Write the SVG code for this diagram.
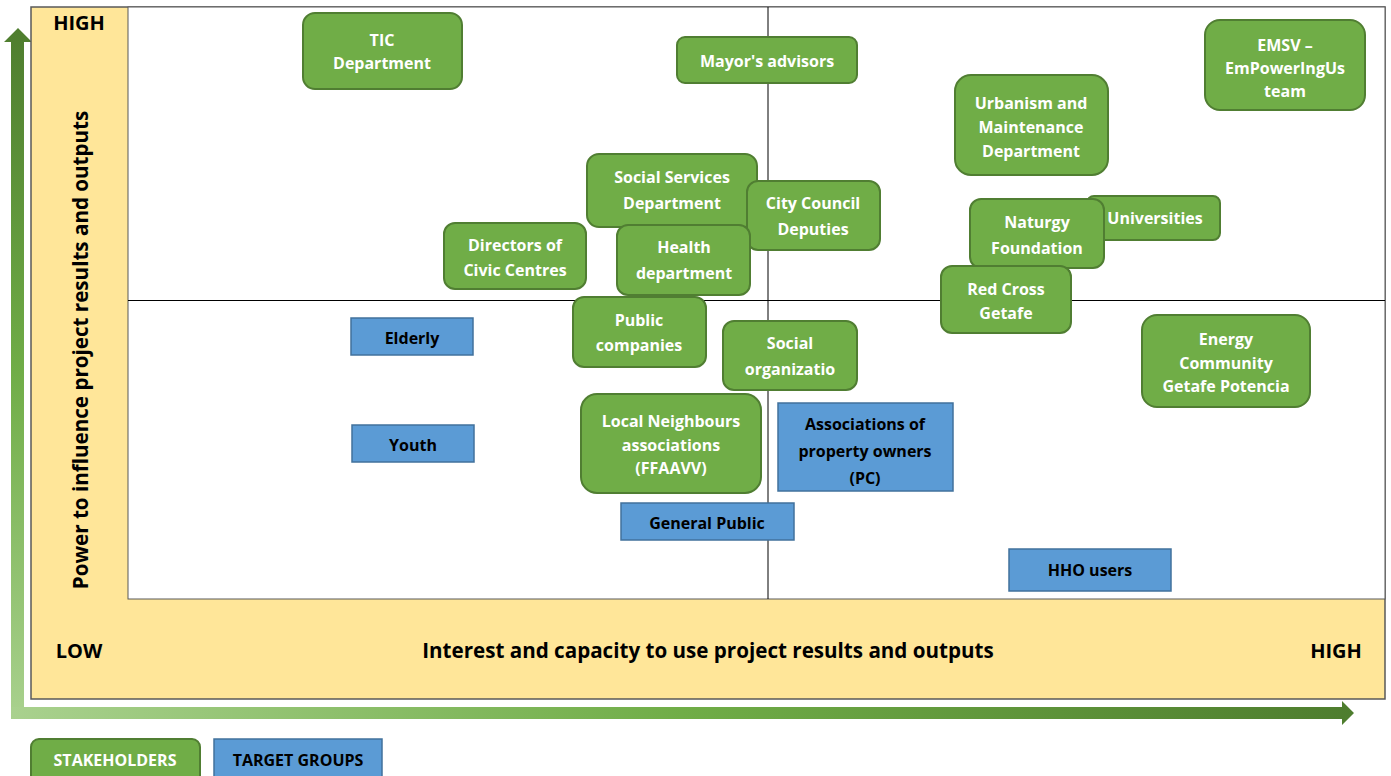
<svg xmlns="http://www.w3.org/2000/svg" width="1391" height="776" viewBox="0 0 1391 776">
<style>
.g rect{fill:#70AD47;stroke:#507E32;stroke-width:2;}
.b rect{fill:#5B9BD5;stroke:#41719C;stroke-width:1.5;}
.g text{fill:#FFFFFF;font-size:16px;text-anchor:middle;font-family:"Open Sans","Liberation Sans",sans-serif;font-weight:bold;}
.b text{fill:#000000;font-size:16px;text-anchor:middle;font-family:"Open Sans","Liberation Sans",sans-serif;font-weight:bold;}
.axis{fill:#000;font-size:20px;font-family:"Open Sans","Liberation Sans",sans-serif;font-weight:bold;}
.axis-long{font-size:20.6px;}
</style>
<defs>
<linearGradient id="gv" x1="0" y1="0" x2="0" y2="1">
<stop offset="0" stop-color="#4E7D2E"/>
<stop offset="0.5" stop-color="#70AD47"/>
<stop offset="1" stop-color="#A9D18E"/>
</linearGradient>
<linearGradient id="gh" x1="0" y1="0" x2="1" y2="0">
<stop offset="0" stop-color="#A9D18E"/>
<stop offset="0.5" stop-color="#70AD47"/>
<stop offset="1" stop-color="#4E7D2E"/>
</linearGradient>
</defs>
<rect x="0" y="0" width="1391" height="776" fill="#FFFFFF"/>
<g id="axis-arrows">
<path d="M11,42 L4,42 L18,28 L32,42 L24,42 L24,719 L11,719 Z" fill="url(#gv)"/>
<path d="M11,707 L1342,707 L1342,701 L1354,713 L1342,725 L1342,719 L11,719 Z" fill="url(#gh)"/>
</g>
<g id="frame">
<rect x="31" y="7" width="1354" height="692" fill="#FFE699" stroke="#595959" stroke-width="1.5"/>
<rect x="128" y="7" width="1257" height="592" fill="#FFFFFF" stroke="#595959" stroke-width="1"/>
<line x1="768" y1="7" x2="768" y2="599" stroke="#000" stroke-width="1"/>
<line x1="128" y1="300.5" x2="1385" y2="300.5" stroke="#000" stroke-width="1"/>
<text class="axis" x="79" y="30" text-anchor="middle">HIGH</text>
<text class="axis" x="79" y="658" text-anchor="middle">LOW</text>
<text class="axis" x="1336" y="658" text-anchor="middle">HIGH</text>
<text class="axis axis-long" x="708" y="658" text-anchor="middle">Interest and capacity to use project results and outputs</text>
<text class="axis axis-long" transform="translate(88,350) rotate(-90)" x="0" y="0" text-anchor="middle">Power to influence project results and outputs</text>
</g>
<g id="n-tic" class="g"><rect x="303" y="13" width="159" height="76" rx="12"/><text x="382" y="46">TIC</text><text x="382" y="69">Department</text></g>
<g id="n-mayor" class="g"><rect x="677" y="37" width="180" height="46" rx="8"/><text x="767" y="67">Mayor's advisors</text></g>
<g id="n-emsv" class="g"><rect x="1205" y="20" width="160" height="90" rx="15"/><text x="1285" y="51">EMSV –</text><text x="1285" y="74">EmPowerIngUs</text><text x="1285" y="97">team</text></g>
<g id="n-urban" class="g"><rect x="955" y="75" width="153" height="100" rx="16"/><text x="1031" y="109">Urbanism and</text><text x="1031" y="133">Maintenance</text><text x="1031" y="157">Department</text></g>
<g id="n-social-services" class="g"><rect x="587" y="154" width="170" height="73" rx="12"/><text x="672" y="183">Social Services</text><text x="672" y="209">Department</text></g>
<g id="n-city-council" class="g"><rect x="747" y="181" width="133" height="69" rx="11"/><text x="813" y="209">City Council</text><text x="813" y="235">Deputies</text></g>
<g id="n-directors" class="g"><rect x="444" y="223" width="142" height="66" rx="11"/><text x="515" y="251">Directors of</text><text x="515" y="276">Civic Centres</text></g>
<g id="n-health" class="g"><rect x="617" y="225" width="133" height="70" rx="11"/><text x="684" y="253">Health</text><text x="684" y="279">department</text></g>
<g id="n-universities" class="g"><rect x="1087" y="196" width="133" height="44" rx="7"/><text x="1155" y="224">Universities</text></g>
<g id="n-naturgy" class="g"><rect x="970" y="199" width="134" height="69" rx="11"/><text x="1037" y="228">Naturgy</text><text x="1037" y="254">Foundation</text></g>
<g id="n-redcross" class="g"><rect x="941" y="266" width="130" height="67" rx="11"/><text x="1006" y="295">Red Cross</text><text x="1006" y="319">Getafe</text></g>
<g id="n-public-companies" class="g"><rect x="573" y="297" width="133" height="70" rx="11"/><text x="639" y="326">Public</text><text x="639" y="351">companies</text></g>
<g id="n-social-org" class="g"><rect x="723" y="321" width="134" height="69" rx="11"/><text x="790" y="349">Social</text><text x="790" y="375">organizatio</text></g>
<g id="n-energy" class="g"><rect x="1142" y="315" width="168" height="92" rx="15"/><text x="1226" y="345">Energy</text><text x="1226" y="369">Community</text><text x="1226" y="392">Getafe Potencia</text></g>
<g id="n-neighbours" class="g"><rect x="581" y="394" width="180" height="99" rx="16"/><text x="671" y="427">Local Neighbours</text><text x="671" y="451">associations</text><text x="671" y="474">(FFAAVV)</text></g>
<g id="n-elderly" class="b"><rect x="351" y="318" width="122" height="37"/><text x="412" y="344">Elderly</text></g>
<g id="n-youth" class="b"><rect x="352" y="425" width="122" height="37"/><text x="413" y="451">Youth</text></g>
<g id="n-property-owners" class="b"><rect x="778" y="403" width="175" height="88"/><text x="865" y="430">Associations of</text><text x="865" y="457">property owners</text><text x="865" y="484">(PC)</text></g>
<g id="n-general-public" class="b"><rect x="621" y="503" width="173" height="37"/><text x="707" y="529">General Public</text></g>
<g id="n-hho" class="b"><rect x="1009" y="549" width="162" height="42"/><text x="1090" y="576">HHO users</text></g>
<g id="legend-stakeholders" class="g"><rect x="31" y="739" width="169" height="45" rx="8"/><text x="115" y="766">STAKEHOLDERS</text></g>
<g id="legend-target" class="b"><rect x="214" y="739" width="168" height="45"/><text x="298" y="766">TARGET GROUPS</text></g>
<g id="connectors"></g>
</svg>
